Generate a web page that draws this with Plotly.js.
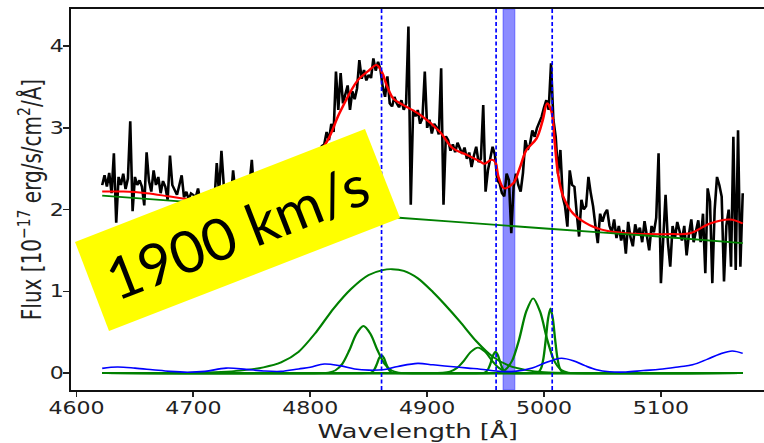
<!DOCTYPE html>
<html>
<head>
<meta charset="utf-8">
<script src="https://cdn.plot.ly/plotly-3.0.1.min.js"></script>
<style>
  html, body { margin: 0; padding: 0; background: #fff; overflow: hidden; }
  #wrap { position: relative; width: 764px; height: 443px; overflow: hidden; }
  /* spectrum panel is laid out narrow and widened to the page width */
  #spec { position: absolute; left: 0; top: 0; width: 588px; height: 443px;
          transform: scaleX(1.2993); transform-origin: 0 0; }
  #label { position: absolute; left: 0; top: 0; width: 764px; height: 443px; }
</style>
</head>
<body>
<div id="wrap">
  <div id="spec"></div>
  <div id="label"></div>
</div>
<script>
// Observed spectrum, sampled every 2 Å from 4622 Å
const WAVE0 = 4622;
const DWAVE = 2;
const fluxObs = [
  // 4622 - 4700
  2.30, 2.42, 2.28, 2.45, 2.20, 2.69, 1.84, 2.40, 2.30, 2.44,
  2.25, 2.38, 3.08, 1.98, 2.40, 2.30, 2.36, 2.28, 2.05, 2.70,
  2.35, 2.22, 2.48, 2.30, 2.40, 2.20, 2.35, 2.28, 2.12, 2.66,
  2.30, 2.25, 2.18, 2.30, 2.42, 2.15, 2.22, 2.12, 2.20, 2.18,
  // 4702 - 4810
  2.15, 2.26, 2.10, 2.18, 2.05, 2.20, 2.12, 2.25, 2.10, 2.57,
  2.20, 2.72, 2.30, 2.15, 2.25, 2.10, 2.48, 2.20, 2.12, 2.28,
  2.15, 2.22, 2.08, 2.30, 2.61, 2.18, 2.10, 2.25, 2.15, 2.22,
  2.08, 2.30, 2.12, 2.20, 2.25, 2.10, 2.28, 2.20, 2.35, 2.25,
  2.40, 2.30, 2.45, 2.38, 2.50, 2.42, 2.55, 2.48, 2.60, 2.55,
  2.65, 2.58, 2.70, 2.66, 2.78,
  // 4812 - 4960
  2.80, 2.95, 2.85, 3.05, 2.95, 3.69, 3.22, 3.67, 3.30, 3.40,
  3.52, 3.22, 3.45, 3.35, 3.48, 3.83, 3.60, 3.71, 3.58, 3.65,
  3.61, 3.85, 3.70, 3.81, 3.72, 3.50, 3.38, 3.63, 3.30, 3.26,
  3.38, 3.30, 3.25, 3.34, 3.22, 3.30, 4.24, 2.06, 3.22, 3.14,
  3.22, 3.05, 3.12, 3.69, 3.00, 3.10, 2.93, 3.05, 3.01, 2.92,
  3.73, 2.06, 2.90, 2.85, 2.72, 2.80, 2.70, 2.82, 2.75, 2.68,
  2.76, 2.62, 2.70, 2.52, 2.66, 2.77, 2.58, 2.62, 3.28, 2.22,
  2.48, 2.62, 2.77, 2.67, 2.36,
  // 4962 - 5056
  2.32, 2.20, 2.16, 2.44, 2.36, 1.71, 2.28, 2.44, 2.30, 2.22,
  2.45, 2.85, 2.73, 2.80, 2.97, 2.89, 3.00, 3.06, 3.14, 3.25,
  3.34, 3.22, 3.79, 3.10, 2.89, 2.44, 2.73, 2.16, 2.04, 1.79,
  2.48, 2.30, 2.28, 1.95, 1.67, 2.12, 2.00, 2.04, 2.40, 2.20,
  2.04, 1.80, 1.59, 1.95, 1.85, 1.95, 2.00, 1.80,
  // 5058 - 5170
  1.72, 1.88, 1.65, 1.80, 1.62, 1.75, 1.46, 1.85, 1.66, 1.55,
  1.82, 1.70, 1.78, 1.60, 1.86, 1.68, 1.50, 1.80, 1.72, 1.90,
  2.69, 1.10, 1.75, 2.18, 1.60, 1.30, 1.80, 1.65, 1.85, 1.75,
  1.62, 1.80, 1.44, 1.70, 1.88, 1.60, 1.75, 1.87, 1.60, 1.95,
  1.22, 2.26, 2.10, 1.10, 2.00, 2.40, 2.30, 2.16, 1.12, 1.80,
  2.00, 1.30, 2.89, 1.26, 2.97, 1.30, 2.20
];

// Total model fit
const fitWave = [4622, 4640, 4660, 4680, 4700, 4720, 4740, 4760, 4780, 4800,
                 4815, 4825, 4841, 4850, 4856.6, 4861, 4866, 4871, 4877, 4882,
                 4894, 4911, 4922, 4934, 4945, 4949, 4955, 4958, 4961, 4966,
                 4973.5, 4979, 4985, 4993.6, 4999, 5002.7, 5006.4, 5009, 5012, 5016.4,
                 5025, 5039, 5053.5, 5070, 5090, 5110, 5125, 5142, 5159, 5170];
const fitFlux = [2.22, 2.22, 2.20, 2.16, 2.12, 2.10, 2.12, 2.18, 2.32, 2.55,
                 2.85, 3.18, 3.59, 3.70, 3.77, 3.69, 3.50, 3.36, 3.30, 3.26,
                 3.16, 2.95, 2.75, 2.67, 2.59, 2.56, 2.61, 2.59, 2.40, 2.26,
                 2.32, 2.50, 2.73, 2.87, 3.10, 3.30, 3.20, 2.85, 2.44, 2.16,
                 1.95, 1.81, 1.74, 1.71, 1.70, 1.70, 1.71, 1.83, 1.88, 1.83];

// Power-law continuum
const contWave = [4622, 4680, 4750, 4876, 4962, 5048, 5090, 5170];
const contFlux = [2.17, 2.11, 2.04, 1.90, 1.81, 1.72, 1.68, 1.59];

// Fe II template
const feWave = [4622, 4635, 4650, 4665, 4680, 4695, 4710, 4728, 4745, 4760,
                4775, 4790, 4800, 4812, 4825, 4838, 4850, 4862, 4875, 4892,
                4905, 4920, 4935, 4950, 4962, 4975, 4990, 5000, 5008, 5015,
                5025, 5035, 5045, 5056, 5070, 5085, 5099, 5116, 5127, 5140,
                5150, 5161, 5170];
const feFlux = [0.057, 0.073, 0.06, 0.04, 0.02, 0.01, 0.02, 0.06, 0.045, 0.025,
                0.02, 0.05, 0.07, 0.11, 0.09, 0.05, 0.035, 0.04, 0.08, 0.118,
                0.10, 0.08, 0.06, 0.04, 0.02, 0.02, 0.06, 0.12, 0.16, 0.18,
                0.15, 0.09, 0.04, 0.016, 0.012, 0.03, 0.045, 0.077, 0.10, 0.17,
                0.23, 0.27, 0.24];

// Gaussian line components
const hbBroadWave = [4622, 4700, 4740, 4760, 4775, 4790, 4805, 4820, 4835, 4850,
                     4862, 4870, 4880, 4892, 4905, 4915, 4928, 4942, 4956, 4970,
                     4985, 5000, 5030, 5170];
const hbBroadFlux = [0, 0.004, 0.03, 0.07, 0.13, 0.26, 0.50, 0.79, 1.03, 1.20,
                     1.26, 1.27, 1.25, 1.16, 0.99, 0.84, 0.63, 0.39, 0.20, 0.09,
                     0.035, 0.01, 0, 0];
const hbBlueWave = [4622, 4809.5, 4815.5, 4821.5, 4827.5, 4833.5, 4839.5, 4845.5, 4851.5, 4857.5,
                    4863.5, 4869.5, 4875.5, 4881.5, 5170];
const hbBlueFlux = [0, 0, 0.006, 0.032, 0.114, 0.28, 0.48, 0.575, 0.48, 0.28,
                    0.114, 0.032, 0.006, 0, 0];
const hbNarrowWave = [4622, 4849, 4851, 4853, 4855, 4857, 4859, 4861, 4863, 4865,
                      4867, 4869, 4871, 4873, 5170];
const hbNarrowFlux = [0, 0, 0.003, 0.014, 0.046, 0.11, 0.185, 0.22, 0.185, 0.11,
                      0.046, 0.014, 0.003, 0, 0];
const o3aWingWave = [4622, 4907.5, 4913.5, 4919.5, 4925.5, 4931.5, 4937.5, 4943.5, 4949.5, 4955.5,
                     4961.5, 4967.5, 4973.5, 4979.5, 5170];
const o3aWingFlux = [0, 0, 0.003, 0.017, 0.061, 0.151, 0.26, 0.31, 0.26, 0.151,
                     0.061, 0.017, 0.003, 0, 0];
const o3aNarrowWave = [4622, 4946.5, 4948.5, 4950.5, 4952.5, 4954.5, 4956.5, 4958.5, 4960.5, 4962.5,
                       4964.5, 4966.5, 4968.5, 4970.5, 5170];
const o3aNarrowFlux = [0, 0, 0.003, 0.016, 0.055, 0.13, 0.218, 0.26, 0.218, 0.13,
                       0.055, 0.016, 0.003, 0, 0];
const o3bWingWave = [4622, 4954.7, 4960.7, 4966.7, 4972.7, 4978.7, 4984.7, 4990.7, 4996.7, 5002.7,
                     5008.7, 5014.7, 5020.7, 5026.7, 5170];
const o3bWingFlux = [0, 0, 0.006, 0.038, 0.15, 0.41, 0.75, 0.914, 0.75, 0.41,
                     0.15, 0.038, 0.006, 0, 0];
const o3bNarrowWave = [4622, 4991.5, 4993.5, 4995.5, 4997.5, 4999.5, 5001.5, 5003.5, 5005.5, 5007.5,
                       5009.5, 5011.5, 5013.5, 5015.5, 5017.5, 5019.5, 5170];
const o3bNarrowFlux = [0, 0, 0.003, 0.013, 0.058, 0.18, 0.41, 0.67, 0.79, 0.67,
                       0.41, 0.18, 0.058, 0.013, 0.003, 0, 0];

// Reference line positions and the masked window
const lineCentres = [4861, 4959, 5007];
const maskWindow = [4965, 4975];

const xTicks = [4600, 4700, 4800, 4900, 5000, 5100];
const yTicks = [0, 1, 2, 3, 4];

const comps = [
  [hbBroadWave, hbBroadFlux], [hbBlueWave, hbBlueFlux], [hbNarrowWave, hbNarrowFlux],
  [o3aWingWave, o3aWingFlux], [o3aNarrowWave, o3aNarrowFlux],
  [o3bWingWave, o3bWingFlux], [o3bNarrowWave, o3bNarrowFlux]
];

const traces = [
  { type: 'scatter', mode: 'lines', x0: WAVE0, dx: DWAVE, y: fluxObs,
    line: { color: '#000000', width: 2 } },
  { type: 'scatter', mode: 'lines', x: fitWave, y: fitFlux,
    line: { color: '#ff0000', width: 2, shape: 'spline', smoothing: 1 } },
  { type: 'scatter', mode: 'lines', x: contWave, y: contFlux,
    line: { color: '#008000', width: 1.8, shape: 'spline', smoothing: 0.6 } }
];
comps.forEach(c => traces.push({
  type: 'scatter', mode: 'lines', x: c[0], y: c[1],
  line: { color: '#008000', width: 1.8, shape: 'spline', smoothing: 0.8 }
}));
traces.push({ type: 'scatter', mode: 'lines', x: feWave, y: feFlux,
  line: { color: '#0000ff', width: 1.6, shape: 'spline', smoothing: 1 } });

const shapes = [{
  type: 'rect', xref: 'x', yref: 'paper', x0: maskWindow[0], x1: maskWindow[1], y0: 0, y1: 1,
  fillcolor: 'rgba(0,0,255,0.45)', line: { color: 'rgba(0,0,255,0.35)', width: 1 }, layer: 'below'
}];
lineCentres.forEach(w => shapes.push({
  type: 'line', xref: 'x', yref: 'paper', x0: w, x1: w, y0: 0, y1: 1,
  line: { color: '#0000ff', width: 1.3, dash: '4px,2.5px' }, layer: 'above'
}));

const tickFont = { family: 'DejaVu Sans', size: 17, color: '#222' };
const titleFont = { family: 'DejaVu Sans', size: 20, color: '#222' };

const layout = {
  width: 588, height: 443,
  margin: { l: 55, r: 0, t: 9, b: 53 },
  paper_bgcolor: '#ffffff', plot_bgcolor: '#ffffff',
  showlegend: false, hovermode: false,
  xaxis: {
    range: [4595.7, 5188.2], tickvals: xTicks, ticktext: xTicks.map(String),
    ticks: 'outside', ticklen: 5, tickwidth: 1.4, tickcolor: '#222',
    showline: true, linecolor: '#111', linewidth: 2, mirror: true,
    showgrid: false, zeroline: false, tickfont: tickFont, ticklabelstandoff: -3,
    title: { text: 'Wavelength [Å]', font: titleFont, standoff: 12 }
  },
  yaxis: {
    range: [-0.208, 4.455], tickvals: yTicks, ticktext: yTicks.map(String),
    ticks: 'outside', ticklen: 4.5, tickwidth: 1.4, tickcolor: '#222',
    showline: true, linecolor: '#111', linewidth: 2, mirror: false,
    showgrid: false, zeroline: false, tickfont: tickFont, ticklabelstandoff: -4,
    title: { text: 'Flux [10<sup>−17</sup> erg/s/cm<sup>2</sup>/Å]', font: titleFont, standoff: 1 }
  },
  shapes: shapes
};

Plotly.newPlot('spec', traces, layout, { staticPlot: true, displayModeBar: false });

// Velocity label on a tilted yellow card
const cardX = [0.0982, 0.4777, 0.5236, 0.1427];
const cardY = [0.4537, 0.7088, 0.5079, 0.2528];
const cardPath = 'M' + cardX.map((x, i) => x + ',' + cardY[i]).join(' L') + ' Z';

const labelLayout = {
  width: 764, height: 443,
  margin: { l: 0, r: 0, t: 0, b: 0 },
  paper_bgcolor: 'rgba(0,0,0,0)', plot_bgcolor: 'rgba(0,0,0,0)',
  xaxis: { visible: false, range: [0, 1] },
  yaxis: { visible: false, range: [0, 1] },
  shapes: [{ type: 'path', xref: 'paper', yref: 'paper', path: cardPath,
             fillcolor: '#ffff00', line: { width: 0 } }],
  annotations: [{
    xref: 'paper', yref: 'paper', x: 0.3102, y: 0.4786,
    xanchor: 'center', yanchor: 'middle', showarrow: false,
    text: '1900 km/s', textangle: -21.3,
    font: { family: 'Lato', size: 58, color: '#000000' }
  }]
};
Plotly.newPlot('label', [], labelLayout, { staticPlot: true, displayModeBar: false });
</script>
</body>
</html>
